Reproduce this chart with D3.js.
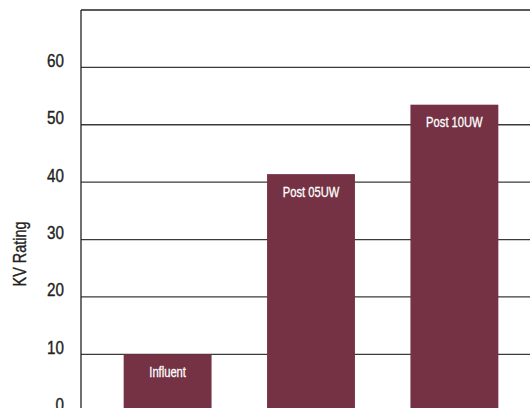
<!DOCTYPE html>
<html>
<head>
<meta charset="utf-8">
<script src="https://cdn.jsdelivr.net/npm/d3@7"></script>
<style>
  body { margin: 0; background: #fff; }
  svg { display: block; }
  text { font-family: "Liberation Sans", Arial, sans-serif; }
</style>
</head>
<body>
<div id="chart"></div>
<script>
// data
var categories = ["Influent", "Post 05UW", "Post 10UW"];
var kvValues = [10, 41.4, 53.5];
var yTicks = [0, 10, 20, 30, 40, 50, 60];

var width = 530, height = 408;
// plot area runs past the right/bottom edge of the window
var margin = { left: 81, top: 10 };
var plotRight = 541, plotBottom = 411.7;
// condensed look: squeeze text horizontally
var squeeze = 0.8;

var svg = d3.select("#chart").append("svg")
    .attr("width", width).attr("height", height)
    .attr("viewBox", `0 0 ${width} ${height}`);

var x = d3.scaleBand()
    .domain(categories)
    .range([margin.left, plotRight])
    .paddingInner(0.387)
    .paddingOuter(0.2976);

var y = d3.scaleLinear()
    .domain([0, 70])
    .range([plotBottom, margin.top]);

// gridlines
svg.append("g").selectAll("line")
    .data(yTicks.filter(d => d > 0))
    .enter().append("line")
    .attr("x1", margin.left).attr("x2", width)
    .attr("y1", d => y(d)).attr("y2", d => y(d))
    .style("stroke", "#3a3a3a")
    .style("stroke-width", 1.3);

// top border
svg.append("line")
    .attr("x1", margin.left).attr("x2", width)
    .attr("y1", y(70)).attr("y2", y(70))
    .style("stroke", "#222").style("stroke-width", 1.3);

// bars
svg.append("g").selectAll("rect")
    .data(categories)
    .enter().append("rect")
    .attr("x", d => x(d))
    .attr("width", x.bandwidth())
    .attr("y", (d, i) => y(kvValues[i]))
    .attr("height", (d, i) => y(0) - y(kvValues[i]))
    .style("fill", "#743244");

// bar labels
svg.append("g").selectAll("text")
    .data(categories)
    .enter().append("text")
    .attr("transform", (d, i) =>
        `translate(${x(d) + x.bandwidth() / 2},${y(kvValues[i]) + 19}) scale(${squeeze},1)`)
    .attr("text-anchor", "middle")
    .attr("dominant-baseline", "middle")
    .style("fill", "#fff")
    .style("stroke", "#fff").style("stroke-width", 0.3)
    .style("font-size", "14px")
    .text(d => d);

// y axis line
svg.append("line")
    .attr("x1", margin.left).attr("x2", margin.left)
    .attr("y1", y(70)).attr("y2", height)
    .style("stroke", "#222").style("stroke-width", 1.3);

// tick labels
svg.append("g").selectAll("text")
    .data(yTicks)
    .enter().append("text")
    .attr("transform", d => `translate(64,${y(d) - 5.5}) scale(${squeeze},1)`)
    .attr("text-anchor", "end")
    .attr("dominant-baseline", "middle")
    .style("fill", "#222")
    .style("stroke", "#222").style("stroke-width", 0.4)
    .style("font-size", "19px")
    .text(d => d);

// axis title
svg.append("text")
    .attr("transform", `translate(21,254) rotate(-90) scale(${squeeze},1)`)
    .attr("text-anchor", "middle")
    .attr("dominant-baseline", "middle")
    .style("fill", "#222")
    .style("stroke", "#222").style("stroke-width", 0.35)
    .style("font-size", "18px")
    .text("KV Rating");
</script>
</body>
</html>
